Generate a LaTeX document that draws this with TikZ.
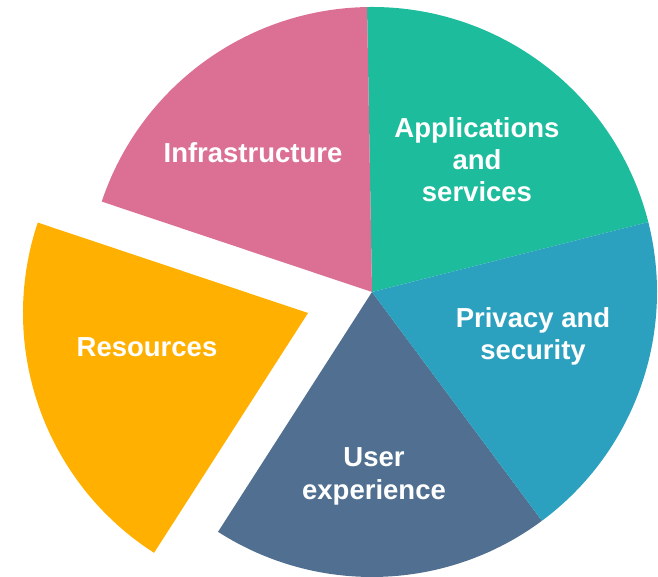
\documentclass[tikz,border=0pt]{standalone}
\usepackage{fontspec}
\setmainfont{Liberation Sans}
\definecolor{infracol}{RGB}{220,112,148}
\definecolor{appcol}{RGB}{29,188,156}
\definecolor{privcol}{RGB}{44,161,191}
\definecolor{uxcol}{RGB}{81,112,145}
\definecolor{rescol}{RGB}{255,176,0}
\begin{document}
\begin{tikzpicture}[x=1pt,y=1pt,
  lbl/.style={text=white, align=center, inner sep=0pt, font=\fontsize{27.5}{32}\selectfont\bfseries},
  lblux/.style={lbl, font=\fontsize{27.5}{33}\selectfont\bfseries}]
\useasboundingbox (0,0) rectangle (658,577);
\coordinate (c) at (372,285);
\coordinate (cr) at (308,264);
\fill[appcol] (c) -- ++(14.2:285) arc[start angle=14.2, end angle=91, radius=285] -- cycle;
\fill[infracol] (c) -- ++(91:285) arc[start angle=91, end angle=161.5, radius=285] -- cycle;
\fill[uxcol] (c) -- ++(237.3:285) arc[start angle=237.3, end angle=306.6, radius=285] -- cycle;
\fill[privcol] (c) -- ++(-53.4:285) arc[start angle=-53.4, end angle=14.2, radius=285] -- cycle;
\fill[rescol] (cr) -- ++(161.5:285) arc[start angle=161.5, end angle=237.3, radius=285] -- cycle;
\node[lbl] (infra) at (253,424.5) {Infrastructure};
\node[lbl] (app) at (477,417) {Applications\\and\\services};
\node[lbl] (priv) at (533,241) {Privacy and\\security};
\node[lblux] (ux) at (374,101) {User\\experience};
\node[lbl] (res) at (147,229.5) {Resources};
\end{tikzpicture}
\end{document}
